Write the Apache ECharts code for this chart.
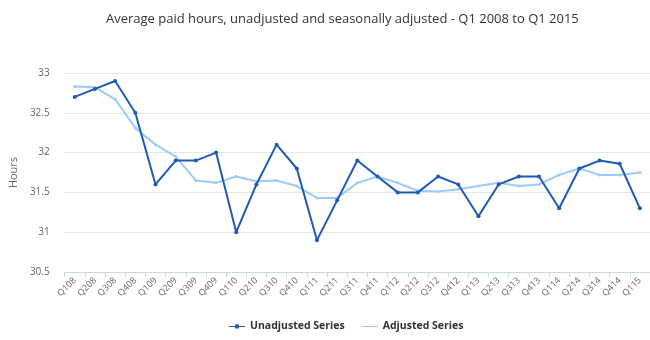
<!DOCTYPE html>
<html><head><meta charset="utf-8">
<script src="https://cdn.jsdelivr.net/npm/echarts@6/dist/echarts.min.js"></script>
<style>html,body{margin:0;padding:0;background:#fff}#c{width:650px;height:340px}</style>
</head><body><div id="c"></div>
<script>
const categories = ['Q108','Q208','Q308','Q408','Q109','Q209','Q309','Q409','Q110','Q210','Q310','Q410','Q111','Q211','Q311','Q411','Q112','Q212','Q312','Q412','Q113','Q213','Q313','Q413','Q114','Q214','Q314','Q414','Q115'];
const unadjusted = [32.7,32.8,32.9,32.5,31.6,31.9,31.9,32.0,31.0,31.6,32.1,31.8,30.9,31.4,31.9,31.7,31.5,31.5,31.7,31.6,31.2,31.6,31.7,31.7,31.3,31.8,31.9,31.86,31.3];
const adjusted = [32.83,32.82,32.67,32.31,32.1,31.95,31.65,31.62,31.7,31.64,31.65,31.58,31.43,31.43,31.62,31.7,31.62,31.52,31.51,31.54,31.58,31.62,31.58,31.6,31.72,31.8,31.72,31.72,31.75];
const yTicks = [30.5,31,31.5,32,32.5,33];
const font = '"Open Sans", "DejaVu Sans", sans-serif';
const chart = echarts.init(document.getElementById('c'));
chart.setOption({
  animation:false,
  title:{text:'Average paid hours, unadjusted and seasonally adjusted - Q1 2008 to Q1 2015',left:101,top:8,
    textStyle:{fontFamily:font,fontSize:13,fontWeight:'normal',color:'#333'}},
  grid:{left:57,right:0,top:73,bottom:68},
  legend:{bottom:3,left:224,itemGap:17,itemWidth:16,itemHeight:8,
    textStyle:{fontFamily:font,fontSize:10.5,fontWeight:'bold',color:'#333'},
    data:[{name:'Unadjusted Series',icon:'path://M0,3.5 L16,3.5 L16,4.5 L0,4.5 Z M6,2 L10,2 L10,6 L6,6 Z'},
          {name:'Adjusted Series',icon:'path://M0,3.5 L16,3.5 L16,4.5 L0,4.5 Z'}]},
  xAxis:{type:'category',data:categories,boundaryGap:true,
    axisLine:{lineStyle:{color:'#ccd6eb'}},
    axisTick:{show:true,alignWithLabel:false,length:5,lineStyle:{color:'#ccd6eb'}},
    axisLabel:{rotate:45,interval:0,fontFamily:font,fontSize:9,color:'#666',margin:7}},
  yAxis:{type:'value',min:30.5,max:33,interval:0.5,
    name:'Hours',nameLocation:'middle',nameGap:40,nameRotate:90,
    nameTextStyle:{fontFamily:font,fontSize:11,color:'#666'},
    axisLine:{show:false},axisTick:{show:false},
    axisLabel:{fontFamily:font,fontSize:10,color:'#666',margin:15,
      formatter:v=>yTicks.includes(+v.toFixed(1))?String(+v.toFixed(1)):''},
    splitLine:{lineStyle:{color:'#e6e6e6'}}},
  series:[
    {name:'Unadjusted Series',type:'line',data:unadjusted,color:'#1e5bb4',
     symbol:'circle',symbolSize:4,lineStyle:{width:2},z:3},
    {name:'Adjusted Series',type:'line',data:adjusted,color:'#9dcbf7',
     symbol:'circle',symbolSize:3,lineStyle:{width:2},z:2}
  ]
});
</script></body></html>
